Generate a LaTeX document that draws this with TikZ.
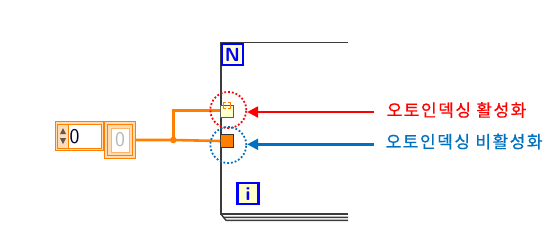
\documentclass[tikz,border=0pt]{standalone}
\usepackage{fontspec}
\newfontfamily\krfont[LetterSpace=9,FakeBold=0.6]{Noto Sans CJK KR}
\usetikzlibrary{arrows.meta}
\definecolor{lvorange}{RGB}{255,128,0}
\definecolor{lvlight}{RGB}{255,220,180}
\definecolor{lvyellow}{RGB}{255,255,204}
\definecolor{lvblue}{RGB}{0,0,255}
\definecolor{callred}{RGB}{255,0,0}
\definecolor{callblue}{RGB}{0,112,192}
\definecolor{framegray}{RGB}{60,60,60}
\tikzset{
  wire/.style={draw=lvorange,line width=2.6pt},
  loopline/.style={draw=framegray,line width=1.4pt},
  termbox/.style={draw=lvblue,line width=2.2pt,fill=lvyellow,minimum width=21pt,minimum height=21pt,inner sep=0pt,font=\sffamily\bfseries\fontsize{19}{19}\selectfont,text=lvblue},
  callarrow/.style={line width=2.4pt,-{Triangle[length=11pt,width=11pt]}},
  calltext/.style={font=\krfont\fontsize{17}{19}\selectfont,anchor=west,inner sep=0pt},
  dotcirc/.style={dotted,line width=1.8pt,circle,minimum size=36pt,inner sep=0pt}
}
\begin{document}
\begin{tikzpicture}[x=1pt,y=-1pt]
\useasboundingbox[fill=white] (0,0) rectangle (559,239);
% loop frame
\draw[loopline] (348,42.7) -- (221,42.7) -- (221,214) -- (348,214);
\draw[loopline] (221,214) -- (223.5,217.3) -- (348,217.3);
\draw[loopline] (223.5,217.3) -- (226,220.3) -- (348,220.3);
% N and i terminals
\node[termbox] (N) at (232.5,54.5) {N};
\node[termbox] (I) at (248,193.7) {i};
% numeric control
\draw[draw=lvorange,fill=lvlight,line width=0.8pt] (55,121.7) rectangle (103.3,150.5);
\draw[draw=lvorange,fill=white,line width=0.8pt] (57.5,124) rectangle (101,148.3);
\draw[draw=lvorange,fill=lvlight,line width=0.6pt] (57.5,124) rectangle (68.5,148.3);
\fill[gray!70!black] (60,134) -- (66,134) -- (63,128) -- cycle;
\fill[gray!70!black] (60,138) -- (66,138) -- (63,144) -- cycle;
\node[font=\sffamily\fontsize{21}{21}\selectfont,text=black!80!blue,anchor=west,inner sep=0pt] (ctl) at (69.5,136.5) {0};
% indicator
\draw[draw=lvorange,fill=lvlight,line width=0.8pt] (104.8,121.7) rectangle (135,158.3);
\draw[draw=lvorange,fill=lvlight,line width=0.8pt] (107.5,124.5) rectangle (132.3,155.5);
\draw[draw=lvorange!60,fill=white,line width=0.6pt] (111,128) rectangle (129,152);
\node[font=\sffamily\fontsize{21}{21}\selectfont,text=gray!55,inner sep=0pt] (ind) at (120,140) {0};
% tunnels
\node[draw=gray!70!black,fill=lvyellow,line width=1pt,minimum size=12.5pt,inner sep=0pt] (T1) at (227,111.7) {};
\draw[lvorange,line width=1.1pt] ([xshift=-1.2pt,yshift=3pt]T1.center) -- ++(-2,0) -- ++(0,-6) -- ++(2,0);
\draw[lvorange,line width=1.1pt] ([xshift=1.2pt,yshift=3pt]T1.center) -- ++(2,0) -- ++(0,-6) -- ++(-2,0);
\node[draw=gray!40!black,fill=lvorange,line width=1pt,minimum size=12.5pt,inner sep=0pt] (T2) at (227,141) {};
% wires
\coordinate (J) at (173.3,140);
\coordinate (Up) at (173.3,110.7);
\draw[wire] (135,140) -- (J) -- (T2.west);
\draw[wire] (J) -- (Up) -- (Up -| T1.west);
\fill[lvorange] (J) circle (3.3pt);
% dotted circles
\node[dotcirc,draw=callred] (C1) at (228.3,110) {};
\node[dotcirc,draw=callblue] (C2) at (228.3,145) {};
% callouts
\node[calltext,text=callred] (L1) at (386.5,110) {오토인덱싱 활성화};
\node[calltext,text=callblue] (L2) at (385.5,141.5) {오토인덱싱 비활성화};
\draw[callarrow,draw=callred,fill=callred] (374,112) -- (C1.east |- 0,112);
\draw[callarrow,draw=callblue,fill=callblue] (374,144.3) -- (C2.east |- 0,144.3);
\end{tikzpicture}
\end{document}
